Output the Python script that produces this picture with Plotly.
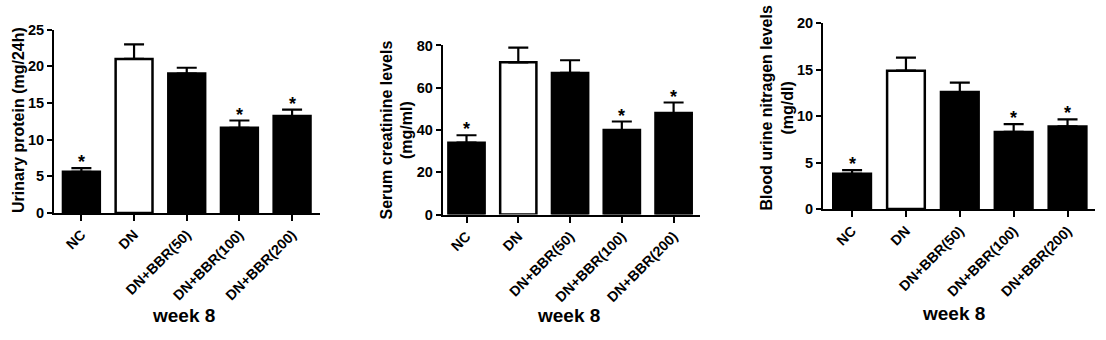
import plotly.graph_objects as go

# Treatment groups (shared by all three panels)
groups = ["NC", "DN", "DN+BBR(50)", "DN+BBR(100)", "DN+BBR(200)"]
bar_colors = ["black", "white", "black", "black", "black"]
significant = [True, False, False, True, True]

# Urinary protein (mg/24h)
protein_mean = [5.6, 21.0, 19.0, 11.6, 13.2]
protein_err = [0.5, 2.0, 0.8, 1.0, 0.9]

# Serum creatinine (mg/ml)
creatinine_mean = [34, 72, 67, 40, 48]
creatinine_err = [3.5, 7.0, 6.0, 4.0, 5.0]

# Blood urine nitrogen (mg/dl)
bun_mean = [3.8, 14.9, 12.6, 8.3, 8.9]
bun_err = [0.4, 1.4, 1.0, 0.85, 0.75]

W, H = 1106, 340
FONT = "Liberation Sans"

panels = [
    dict(mean=protein_mean, err=protein_err, ymax=25, dtick=5,
         title="Urinary protein (mg/24h)", px=(54, 320), py=(22.7, 215),
         xr=(-0.52, 4.53), title_x=18.5, title_y=118, week=(183, 323)),
    dict(mean=creatinine_mean, err=creatinine_err, ymax=80, dtick=20,
         title="Serum creatinine levels<br>(mg/ml)", px=(442.7, 700), py=(39.3, 216.7),
         xr=(-0.46, 4.51), title_x=396.5, title_y=128, week=(568, 322.5)),
    dict(mean=bun_mean, err=bun_err, ymax=20, dtick=5,
         title="Blood urine nitragen levels<br>(mg/dl)", px=(823, 1095), py=(16, 211),
         xr=(-0.54, 4.51), title_x=777.5, title_y=105, week=(953.5, 321)),
]

fig = go.Figure()
annotations = []
layout_axes = {}

for i, p in enumerate(panels, start=1):
    xa = "x" if i == 1 else f"x{i}"
    ya = "y" if i == 1 else f"y{i}"
    fig.add_trace(go.Bar(
        x=groups, y=p["mean"], xaxis=xa, yaxis=ya, width=0.7,
        marker=dict(color=bar_colors, line=dict(color="black", width=2.5)),
        error_y=dict(type="data", array=p["err"], symmetric=False,
                     arrayminus=[0] * len(groups), color="black",
                     thickness=2.2, width=10),
        showlegend=False, hoverinfo="skip",
    ))

    x0, x1 = p["px"][0] / W, p["px"][1] / W
    y0, y1 = (H - p["py"][1]) / H, (H - p["py"][0]) / H
    layout_axes["xaxis" if i == 1 else f"xaxis{i}"] = dict(
        domain=[x0, x1], anchor=ya, range=list(p["xr"]),
        showline=True, linecolor="black", linewidth=2,
        ticks="outside", ticklen=6, tickwidth=2, tickcolor="black",
        tickangle=-45, showgrid=False, zeroline=False,
        tickfont=dict(family=FONT, size=14.2, color="black", weight="bold"),
    )
    layout_axes["yaxis" if i == 1 else f"yaxis{i}"] = dict(
        domain=[y0, y1], anchor=xa, range=[0, p["ymax"]], dtick=p["dtick"],
        showline=True, linecolor="black", linewidth=2,
        ticks="outside", ticklen=5, tickwidth=2, tickcolor="black",
        showgrid=False, zeroline=False,
        tickfont=dict(family=FONT, size=14.5, color="black", weight="bold"),
    )

    # Y-axis title
    annotations.append(dict(
        text=p["title"], xref="paper", yref="paper",
        x=p["title_x"] / W, y=(H - p["title_y"]) / H,
        xanchor="center", yanchor="middle", textangle=-90, showarrow=False,
        font=dict(family=FONT, size=16, color="black", weight="bold"),
    ))
    # X-axis caption
    annotations.append(dict(
        text="week 8", xref="paper", yref="paper",
        x=p["week"][0] / W, y=(H - p["week"][1]) / H,
        xanchor="center", yanchor="middle", showarrow=False,
        font=dict(family=FONT, size=19, color="black", weight="bold"),
    ))
    # Significance markers above the error bars
    for g, m, e, s in zip(groups, p["mean"], p["err"], significant):
        if s:
            annotations.append(dict(
                text="*", xref=xa, yref=ya, x=g, y=m + e,
                xanchor="center", yanchor="bottom", showarrow=False, yshift=-6,
                font=dict(family=FONT, size=18, color="black", weight="bold"),
            ))

fig.update_layout(
    width=W, height=H, margin=dict(l=0, r=0, t=0, b=0),
    paper_bgcolor="white", plot_bgcolor="white",
    annotations=annotations, bargap=0.3, **layout_axes,
)

fig.write_html("out.html")
